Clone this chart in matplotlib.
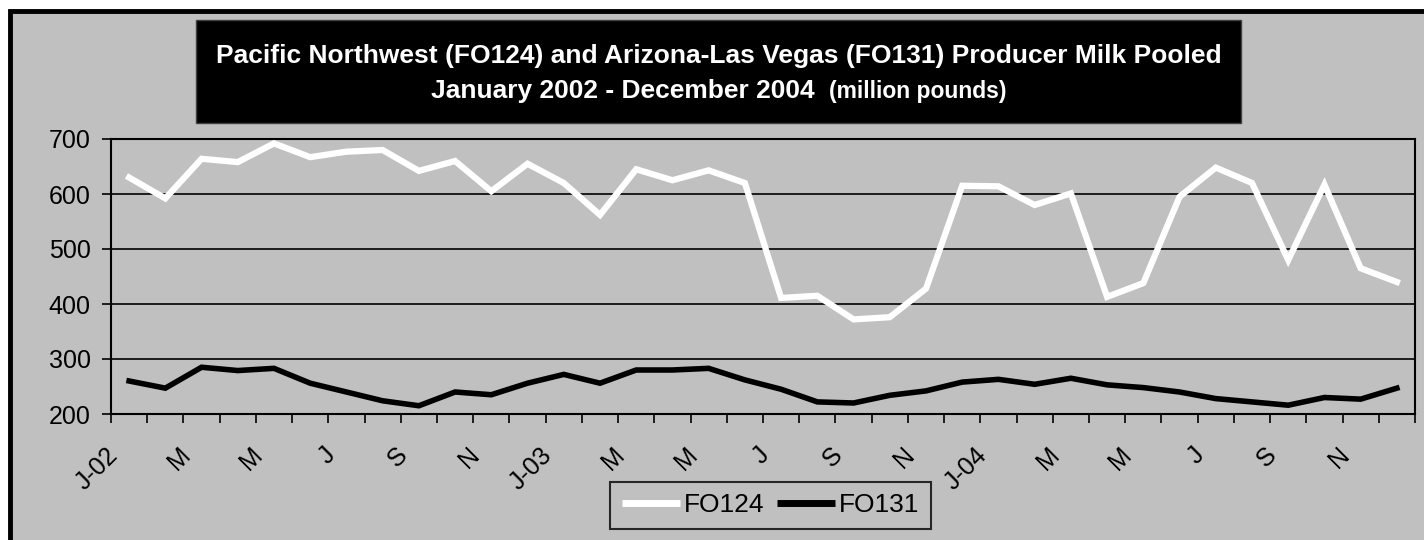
import matplotlib
matplotlib.use("Agg")
import matplotlib.pyplot as plt
from matplotlib.patches import Rectangle
import numpy as np

plt.rcParams["font.family"] = ["Liberation Sans", "DejaVu Sans"]

# monthly pooled milk, Jan 2002 - Dec 2004 (million pounds)
fo124 = [630, 592, 664, 658, 692, 667, 677, 680, 642, 660, 605, 655,
         620, 562, 645, 625, 643, 620, 411, 415, 372, 376, 428, 615,
         614, 580, 601, 413, 438, 595, 648, 620, 480, 617, 465, 440]
fo131 = [260, 247, 285, 279, 283, 256, 240, 224, 215, 240, 235, 256,
         272, 256, 280, 280, 283, 262, 245, 222, 220, 234, 242, 258,
         263, 254, 265, 253, 248, 240, 228, 222, 216, 230, 227, 247]
month_labels = ["J-02", "M", "M", "J", "S", "N",
                "J-03", "M", "M", "J", "S", "N",
                "J-04", "M", "M", "J", "S", "N"]
series_names = ["FO124", "FO131"]
y_ticks = [200, 300, 400, 500, 600, 700]

W, H = 1424, 540
fig = plt.figure(figsize=(W / 100, H / 100), dpi=100)
fig.patch.set_facecolor("white")

# gray chart area with thick black frame (cut off at right/bottom)
frame = Rectangle((10 / W, -10 / H), (W + 20) / W, (H - 10.5 + 10) / H,
                  transform=fig.transFigure, facecolor="#c0c0c0",
                  edgecolor="black", linewidth=3.5, zorder=-5)
fig.patches.append(frame)

ax = fig.add_axes([111 / W, 1 - 414 / H, (1415 - 111) / W, (414 - 139) / H])
ax.set_facecolor("#c0c0c0")
ax.set_zorder(2)

x = np.arange(len(fo124))
ax.plot(x, fo124, color="white", lw=4.5, solid_joinstyle="miter", label=series_names[0], zorder=3)
ax.plot(x, fo131, color="black", lw=4.0, solid_joinstyle="miter", label=series_names[1], zorder=3)

ax.set_xlim(-0.5, len(fo124) - 0.5)
ax.set_ylim(200, 700)
ax.set_yticks(y_ticks)
ax.tick_params(axis="y", labelsize=18, length=6.5, width=1.2, direction="out", pad=8)
ax.yaxis.grid(True, color="black", lw=1.2)
ax.set_axisbelow(True)

# tick marks on category boundaries, labels every other month
ax.set_xticks(np.arange(len(fo124) + 1) - 0.5)
ax.set_xticklabels([])
ax.tick_params(axis="x", which="major", length=6.5, width=1.2, direction="out")
# label anchors sit a little left of each category centre, like the original
ax.set_xticks(np.arange(0, len(fo124), 2) - 0.42, minor=True)
ax.set_xticklabels(month_labels, minor=True, rotation=45, ha="right", va="center",
                   rotation_mode="anchor", fontsize=18)
ax.tick_params(axis="x", which="minor", length=0, pad=27)

for s in ax.spines.values():
    s.set_linewidth(1.5)
    s.set_color("black")

# title box
fig.patches.append(Rectangle((196 / W, 1 - 123 / H), (1241 - 196) / W, (123 - 20) / H,
                             transform=fig.transFigure, facecolor="black",
                             edgecolor="#404040", lw=1, zorder=1))
cx = (196 + 1241) / 2 / W
fig.text(cx, 1 - 63 / H, "Pacific Northwest (FO124) and Arizona-Las Vegas (FO131) Producer Milk Pooled",
         color="white", fontsize=19, fontweight="bold", ha="center", va="baseline")
t1 = fig.text(0, 1 - 98 / H, "January 2002 - December 2004  ", color="white",
              fontsize=19, fontweight="bold", ha="left", va="baseline")
t2 = fig.text(0, 1 - 98 / H, "(million pounds)", color="white",
              fontsize=16.5, fontweight="bold", ha="left", va="baseline")
fig.canvas.draw()
r = fig.canvas.get_renderer()
w1 = t1.get_window_extent(r).width
w2 = t2.get_window_extent(r).width
start = cx * W - (w1 + w2) / 2
t1.set_x(start / W)
t2.set_x((start + w1) / W)

leg = fig.legend(loc="center", bbox_to_anchor=(770.5 / W, 1 - 505.5 / H), ncol=2,
                 fontsize=19, frameon=True, fancybox=False, handlelength=2.2,
                 handletextpad=0.15, columnspacing=0.45, borderpad=0.45,
                 borderaxespad=0)
leg.get_frame().set_facecolor("#c0c0c0")
leg.get_frame().set_edgecolor("black")
leg.get_frame().set_linewidth(1.5)
for line in leg.get_lines():
    line.set_linewidth(5)
    line.set_solid_capstyle("butt")

fig.savefig("out.png", dpi=100)
